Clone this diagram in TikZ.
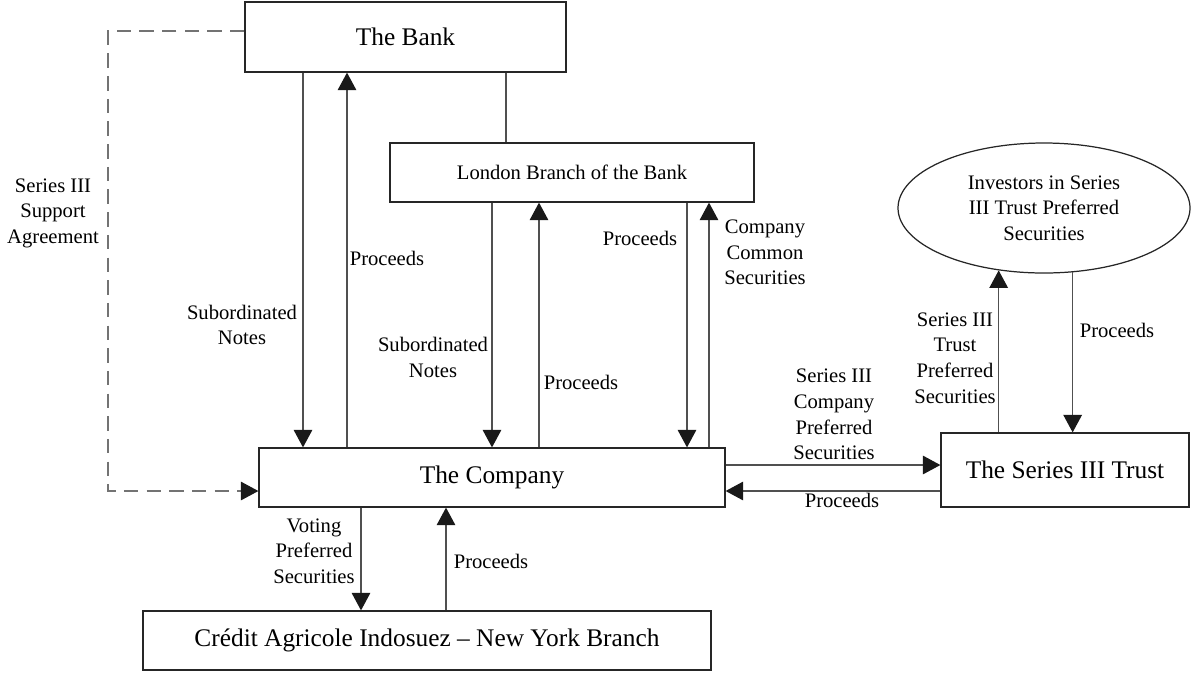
\documentclass[tikz,border=0pt]{standalone}
\usepackage{fontspec}
\setmainfont{Liberation Serif}
\usetikzlibrary{positioning}
\usetikzlibrary{calc}
\usetikzlibrary{shapes}
\usetikzlibrary{arrows.meta}
\newcommand{\pxl}{0.485pt}
\definecolor{linegray}{RGB}{80,80,80}

\begin{document}
\begin{tikzpicture}[
	x=\pxl, y=-\pxl,
	line width=0.6pt,
	party/.style={draw=black!85, inner sep=0pt, font=\fontsize{12.3}{14}\selectfont},
	branch/.style={draw=black!85, inner sep=0pt, font=\fontsize{10}{12.4}\selectfont},
	note/.style={align=center, inner sep=0pt, font=\fontsize{10}{12.4}\selectfont},
	link/.style={draw=linegray},
	flow/.style={draw=linegray, -{Triangle[width=9pt,length=8.5pt,color=black!90]}},
	support/.style={draw=linegray!80, dash pattern=on 7pt off 4pt, -{Triangle[width=9pt,length=8.5pt,color=black!90]}}
]

	\useasboundingbox (0,0) rectangle (1192,673);

	% parties
	\node[party, minimum width=321*\pxl, minimum height=70*\pxl] (bank) at (405.5,37) {The Bank};
	\node[branch, minimum width=364*\pxl, minimum height=59*\pxl] (london) at (572,172.5) {London Branch of the Bank};
	\node[branch, ellipse, align=center, minimum width=292*\pxl, minimum height=130*\pxl] (inv) at (1044,208) {Investors in Series\\III Trust Preferred\\Securities};
	\node[party, minimum width=466*\pxl, minimum height=59*\pxl] (company) at (492,477.5) {The Company};
	\node[party, minimum width=248*\pxl, minimum height=74*\pxl] (trust) at (1065,470) {The Series III Trust};
	\node[party, minimum width=568*\pxl, minimum height=59*\pxl] (credit) at (427,640.5) {Cr\'edit Agricole Indosuez -- New York Branch};

	% bank to london branch
	\draw[link] (bank.south -| 506,0) -- (london.north -| 506,0);

	% notes and proceeds
	\foreach \src/\x in {bank/303, london/492, london/687}{
		\draw[flow] (\src.south -| \x,0) -- (company.north -| \x,0);
	}
	\foreach \src/\x in {bank/347, london/539, london/709}{
		\draw[flow] (company.north -| \x,0) -- (\src.south -| \x,0);
	}

	% company and trust
	\draw[flow] (company.east |- 0,465) -- (trust.west |- 0,465);
	\draw[flow] (trust.west |- 0,491) -- (company.east |- 0,491);

	% trust and investors
	\draw[flow] (trust.north -| inv.234) -- (inv.234);
	\draw[flow] (inv.294) -- (trust.north -| inv.294);

	% company and new york branch
	\draw[flow] (company.south -| 361,0) -- (credit.north -| 361,0);
	\draw[flow] (credit.north -| 446,0) -- (company.south -| 446,0);

	% support agreement
	\coordinate (bend) at (108,491);
	\draw[support] (bank.west |- 0,31) -| (bend) -- (company.west |- bend);

	% labels
	\node[note] (supNote) at (53,213) {Series III\\Support\\Agreement};
	\node[note] (bankNotes) at (242,325) {Subordinated\\Notes};
	\node[note] (bankProceeds) at (387,258) {Proceeds};
	\node[note] (londonNotes) at (433,357.5) {Subordinated\\Notes};
	\node[note] (londonProceeds) at (581,382) {Proceeds};
	\node[note] (commonProceeds) at (640,238) {Proceeds};
	\node[note] (commonSec) at (765,252.5) {Company\\Common\\Securities};
	\node[note] (companyPref) at (834,414.5) {Series III\\Company\\Preferred\\Securities};
	\node[note] (trustProceeds) at (842,500) {Proceeds};
	\node[note] (trustPref) at (955,358) {Series III\\Trust\\Preferred\\Securities};
	\node[note] (invProceeds) at (1117,330) {Proceeds};
	\node[note] (votingPref) at (314,551) {Voting\\Preferred\\Securities};
	\node[note] (creditProceeds) at (491,561) {Proceeds};

\end{tikzpicture}
\end{document}
